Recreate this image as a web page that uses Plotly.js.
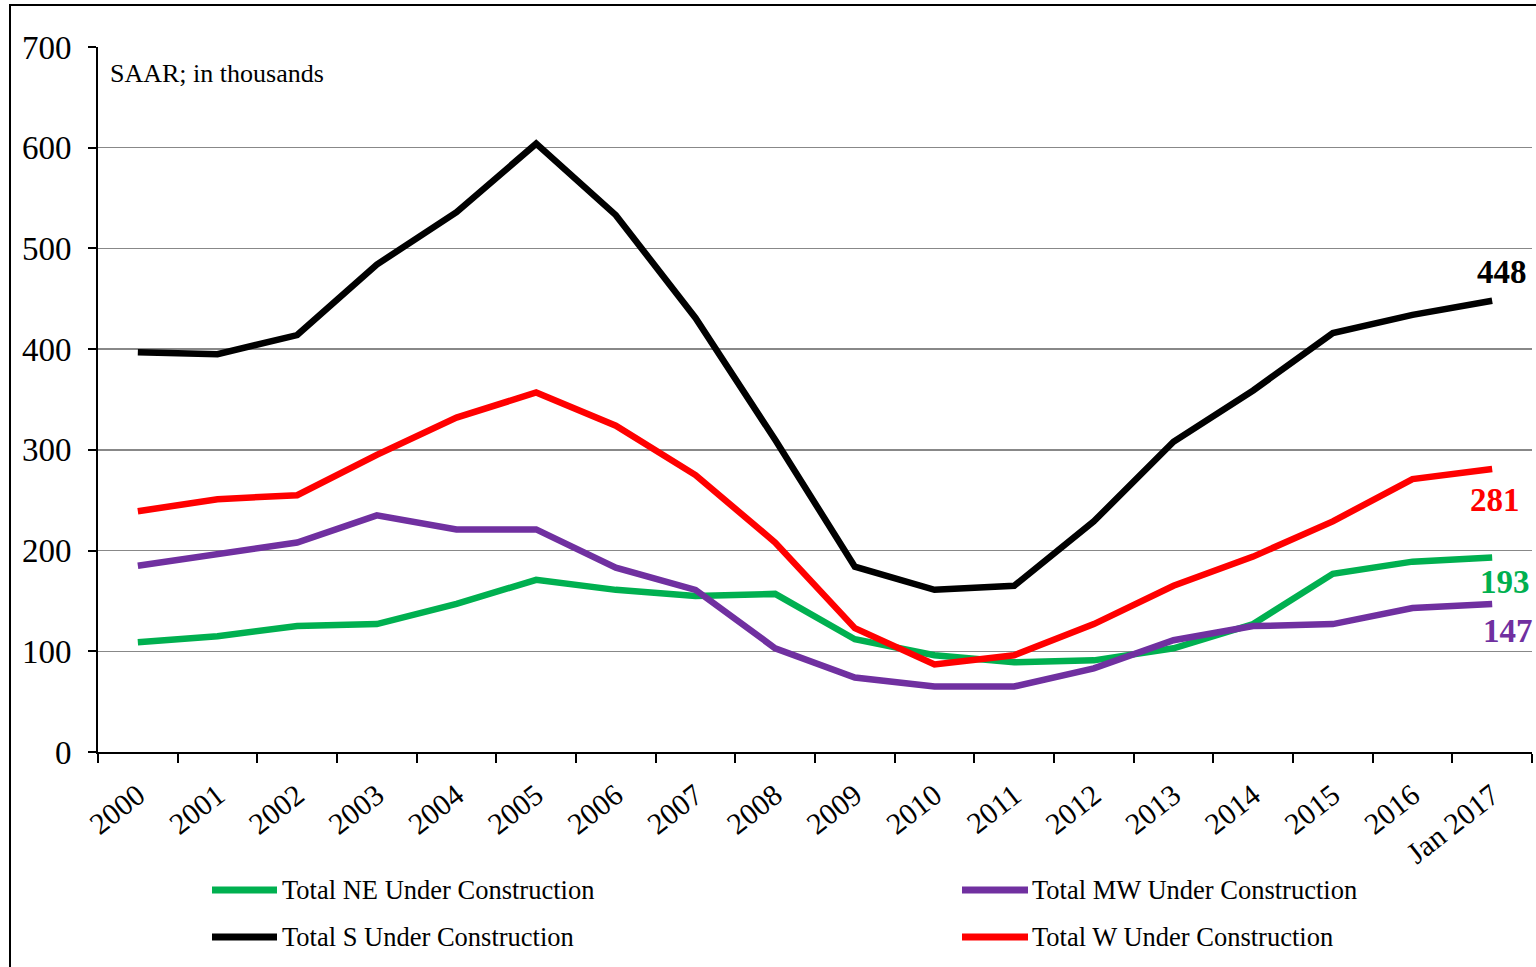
<!DOCTYPE html>
<html>
<head>
<meta charset="utf-8">
<script src="https://cdn.plot.ly/plotly-3.0.1.min.js"></script>
<style>html,body{margin:0;padding:0;background:#fff;}#chart{width:1536px;height:967px;}</style>
</head>
<body>
<div id="chart"></div>
<script>
const categories = ["2000","2001","2002","2003","2004","2005","2006","2007","2008","2009","2010","2011","2012","2013","2014","2015","2016","Jan 2017"];
const neValues = [109,115,125,127,147,171,161,155,157,112,96,89,91,103,127,177,189,193];
const mwValues = [185,196,208,235,221,221,183,161,103,74,65,65,83,111,125,127,143,147];
const sValues  = [397,395,414,484,536,604,533,431,310,184,161,165,229,308,359,416,434,448];
const wValues  = [239,251,255,295,332,357,324,275,208,123,87,96,127,165,194,229,271,281];
const seriesNames = ["Total NE Under Construction","Total MW Under Construction","Total S Under Construction","Total W Under Construction"];
const seriesColors = ["#00B050","#7030A0","#000000","#FF0000"];
const allValues = [neValues, mwValues, sValues, wValues];

const FONT = "Liberation Serif, Times New Roman, serif";
const L = 98, R = 1532, T = 47, B = 752;
const px2x = p => (p - L) / (R - L);
const px2y = p => (B - p) / (B - T);

const traces = allValues.map((v, i) => ({
  x: categories, y: v, type: "scatter", mode: "lines",
  name: seriesNames[i],
  line: {color: seriesColors[i], width: 6.5, shape: "linear"},
  hoverinfo: "x+y+name"
}));

const lastIdx = categories.length - 1;
const endLabelShift = [[13,-24],[16,-27],[10,29],[3,-31]];
const annotations = allValues.map((v, i) => ({
  x: categories[lastIdx], y: v[lastIdx], xref: "x", yref: "y",
  text: "<b>" + v[lastIdx] + "</b>", showarrow: false,
  xshift: endLabelShift[i][0], yshift: endLabelShift[i][1],
  font: {family: FONT, size: 33, color: seriesColors[i]}
}));
annotations.push({
  x: px2x(108), y: px2y(73), xref: "paper", yref: "paper", xanchor: "left", yanchor: "middle",
  text: "SAAR; in thousands", showarrow: false,
  font: {family: FONT, size: 26, color: "#000"}
});

// manual legend (2 x 2 grid)
const legendCols = [[212, 277, 280], [962, 1028, 1030]];
const legendRows = [890, 937];
const legendPos = [[0,0],[1,0],[0,1],[1,1]]; // NE, MW, S, W
const shapes = [{
  type: "rect", xref: "paper", yref: "paper",
  x0: px2x(10), x1: px2x(1545), y0: px2y(985), y1: px2y(5),
  line: {color: "#000", width: 2}, fillcolor: "rgba(0,0,0,0)"
}];
seriesNames.forEach((name, i) => {
  const c = legendCols[legendPos[i][0]], r = legendRows[legendPos[i][1]];
  shapes.push({
    type: "line", xref: "paper", yref: "paper",
    x0: px2x(c[0]), x1: px2x(c[1]), y0: px2y(r), y1: px2y(r),
    line: {color: seriesColors[i], width: 7}
  });
  annotations.push({
    x: px2x(c[2]), y: px2y(r), xref: "paper", yref: "paper", xanchor: "left", yanchor: "middle",
    text: name, showarrow: false,
    font: {family: FONT, size: 26.5, color: "#000"}
  });
});

const layout = {
  width: 1536, height: 967,
  margin: {l: L, r: 1536 - R, t: T, b: 967 - B, autoexpand: false},
  paper_bgcolor: "#ffffff", plot_bgcolor: "#ffffff",
  font: {family: FONT, color: "#000"},
  showlegend: false,
  xaxis: {
    type: "category", tickson: "boundaries", ticks: "outside", ticklen: 9, tickwidth: 2, tickcolor: "#000",
    showline: true, linecolor: "#000", linewidth: 2, showgrid: false, zeroline: false,
    tickangle: -38, tickfont: {family: FONT, size: 30, color: "#000"},
    ticklabelstandoff: 12, range: [-0.5, 17.5], fixedrange: true, automargin: false
  },
  yaxis: {
    range: [0, 700], dtick: 100, tick0: 0, ticks: "outside", ticklen: 8, tickwidth: 2, tickcolor: "#000",
    showline: true, linecolor: "#000", linewidth: 2, showgrid: true, gridcolor: "#888888", gridwidth: 1.5,
    zeroline: false, tickfont: {family: FONT, size: 33, color: "#000"}, ticklabelstandoff: 10,
    fixedrange: true, automargin: false
  },
  annotations: annotations,
  shapes: shapes
};

Plotly.newPlot("chart", traces, layout, {staticPlot: true, displayModeBar: false});
</script>
</body>
</html>
